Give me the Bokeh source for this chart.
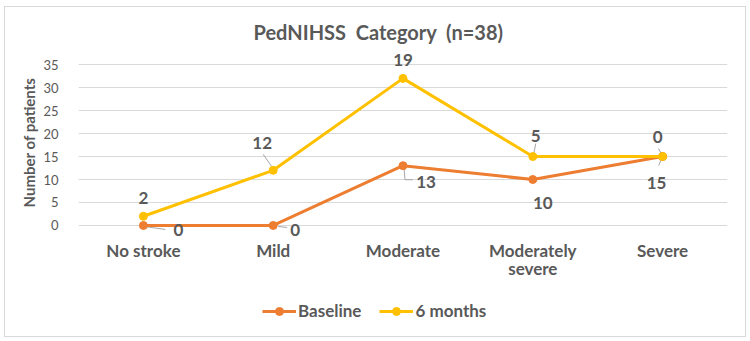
from bokeh.plotting import figure
from bokeh.layouts import column
from bokeh.models import Range1d, FixedTicker, Legend, LegendItem, ColumnDataSource
from bokeh.core.properties import value
from bokeh.embed import file_html
from bokeh.resources import INLINE

# Patients per PedNIHSS category
categories = ["No stroke", "Mild", "Moderate", "Moderately\nsevere", "Severe"]
baseline = [0, 0, 13, 10, 15]
six_months = [2, 12, 19, 5, 0]
y_ticks = [0, 5, 10, 15, 20, 25, 30, 35]

xs = list(range(len(categories)))
# stacked line: the 6-month series sits on top of the baseline series
six_stacked = [b + s for b, s in zip(baseline, six_months)]

FONT = "Lato"
GREY = "#595959"
ORANGE = "#ED7D31"
GOLD = "#FFC000"
GRID = "#d9d9d9"

# a little head-room below 0 and above 35 so the data labels are not clipped
p = figure(width=740, height=289,
           x_range=Range1d(-0.5, len(categories) - 0.5), y_range=Range1d(-2.4, 38.5),
           output_backend="svg", toolbar_location=None,
           min_border_left=73, min_border_right=18, min_border_top=41, min_border_bottom=60)

p.outline_line_color = None
p.background_fill_color = "white"
p.border_fill_color = "white"

# title centred over the whole chart rather than over the plot area
p.title.text = "PedNIHSS\u00a0 Category\u00a0 (n=38)"
p.title.align = "left"
p.title.offset = 175
p.title.text_font = FONT
p.title.text_font_size = "20px"
p.title.text_font_style = "bold"
p.title.text_color = GREY
p.title.standoff = 10

# axes
p.yaxis.ticker = FixedTicker(ticks=y_ticks)
p.yaxis.axis_line_color = None
p.yaxis.major_tick_line_color = None
p.yaxis.minor_tick_line_color = None
p.yaxis.major_label_text_font = FONT
p.yaxis.major_label_text_font_size = "13px"
p.yaxis.major_label_text_color = GREY
p.yaxis.major_label_standoff = 14
p.yaxis.axis_label = "Number of patients"
p.yaxis.axis_label_text_font = FONT
p.yaxis.axis_label_text_font_size = "15px"
p.yaxis.axis_label_text_font_style = "bold"
p.yaxis.axis_label_text_color = GREY
p.yaxis.axis_label_standoff = 2

p.xaxis.ticker = FixedTicker(ticks=xs)
p.xaxis.major_label_overrides = {i: c for i, c in zip(xs, categories)}
p.xaxis.axis_line_color = None
p.xaxis.major_tick_line_color = None
p.xaxis.minor_tick_line_color = None
p.xaxis.major_label_text_font = FONT
p.xaxis.major_label_text_font_size = "17px"
p.xaxis.major_label_text_font_style = "bold"
p.xaxis.major_label_text_color = GREY
p.xaxis.major_label_text_line_height = 0.9
p.xaxis.major_label_standoff = -3

p.xgrid.grid_line_color = None
p.ygrid.grid_line_color = GRID
p.ygrid.grid_line_width = 1

# leader lines for the data labels (screen-pixel offsets from each point)
PX_X = 1 / 130.0   # category units per pixel
PX_Y = 5 / 23.0    # value units per pixel
leaders = [
    (0, baseline[0], [(1, 1), (22, 4)]),
    (1, baseline[1], [(5, 1), (14, 2)]),
    (1, six_stacked[1], [(-1, -3), (-10, -16)]),
    (2, baseline[2], [(1, 2), (2, 14), (10, 14)]),
    (3, six_stacked[3], [(1, -3), (3, -13)]),
    (4, six_stacked[4], [(-4, -8), (0, 0), (-4, 9)]),
]
lx, ly = [], []
for x0, y0, pts in leaders:
    lx.append([x0 + dx * PX_X for dx, dy in pts])
    ly.append([y0 - dy * PX_Y for dx, dy in pts])
p.multi_line(lx, ly, line_color="#a6a6a6", line_width=1)

# series
p.line(xs, baseline, line_color=ORANGE, line_width=3)
p.scatter(xs, baseline, size=8, fill_color=ORANGE, line_color=ORANGE)
p.line(xs, six_stacked, line_color=GOLD, line_width=3)
p.scatter(xs, six_stacked, size=8, fill_color=GOLD, line_color=GOLD)

# data labels
base_src = ColumnDataSource(dict(
    x=xs, y=baseline, t=[str(v) for v in baseline],
    dx=[35, 22, 23, 10, -6], dy=[5, 5, 16, 23, 26]))
six_src = ColumnDataSource(dict(
    x=xs, y=six_stacked, t=[str(v) for v in six_months],
    dx=[0, -11, 0, 3, -5], dy=[-18, -27, -18, -21, -20]))
for src in (base_src, six_src):
    p.text(x="x", y="y", text="t", source=src, x_offset="dx", y_offset="dy",
           text_align="center", text_baseline="middle",
           text_font=value(FONT), text_font_size="17px", text_font_style="bold",
           text_color=GREY)

# legend strip under the chart (its renderers hold no visible points)
leg = figure(width=740, height=40, x_range=Range1d(0, 1), y_range=Range1d(0, 1),
             output_backend="svg", toolbar_location=None, min_border=0)
leg.axis.visible = False
leg.grid.visible = False
leg.outline_line_color = None
nan = float("nan")
l1 = leg.line([nan], [nan], line_color=ORANGE, line_width=3)
s1 = leg.scatter([nan], [nan], size=8, fill_color=ORANGE, line_color=ORANGE)
l2 = leg.line([nan], [nan], line_color=GOLD, line_width=3)
s2 = leg.scatter([nan], [nan], size=8, fill_color=GOLD, line_color=GOLD)

legend = Legend(items=[LegendItem(label="Baseline", renderers=[l1, s1]),
                       LegendItem(label="6 months", renderers=[l2, s2])],
                orientation="horizontal", location=(184, 15))
legend.border_line_color = None
legend.background_fill_alpha = 0
legend.label_text_font = FONT
legend.label_text_font_size = "17px"
legend.label_text_font_style = "bold"
legend.label_text_color = GREY
legend.glyph_width = 34
legend.label_standoff = 2
legend.spacing = 18
legend.margin = 0
legend.padding = 4
leg.add_layout(legend)

page = column(p, leg, spacing=0, margin=(6, 5, 4, 4),
              styles={"border": "1px solid #d9d9d9", "background-color": "white"})

open("out.html", "w").write(file_html(page, INLINE))
